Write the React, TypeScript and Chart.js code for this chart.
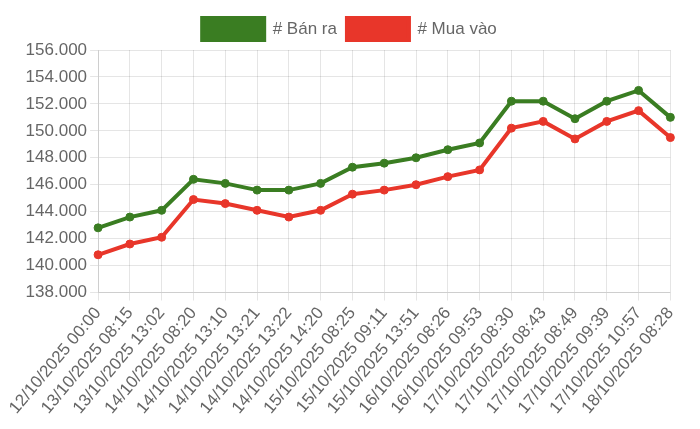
import React, { useEffect, useRef } from "react";
import { Chart, registerables } from "chart.js";

Chart.register(...registerables);

const labels = [
  "12/10/2025 00:00", "13/10/2025 08:15", "13/10/2025 13:02", "14/10/2025 08:20",
  "14/10/2025 13:10", "14/10/2025 13:21", "14/10/2025 13:22", "14/10/2025 14:20",
  "15/10/2025 08:25", "15/10/2025 09:11", "15/10/2025 13:51", "16/10/2025 08:26",
  "16/10/2025 09:53", "17/10/2025 08:30", "17/10/2025 08:43", "17/10/2025 08:49",
  "17/10/2025 09:39", "17/10/2025 10:57", "18/10/2025 08:28",
];
const banRa = [
  142800, 143600, 144100, 146400, 146100, 145600, 145600, 146100, 147300, 147600,
  148000, 148600, 149100, 152200, 152200, 150900, 152200, 153000, 151000,
];
const muaVao = [
  140800, 141600, 142100, 144900, 144600, 144100, 143600, 144100, 145300, 145600,
  146000, 146600, 147100, 150200, 150700, 149400, 150700, 151500, 149500,
];

const fmt = (v: number) => {
  const s = Math.round(v).toString();
  return s.replace(/\B(?=(\d{3})+(?!\d))/g, ".");
};

export default function App() {
  const ref = useRef<HTMLCanvasElement>(null);
  useEffect(() => {
    if (!ref.current) return;
    const font = { family: "'Liberation Sans', Arial, sans-serif", size: 17 };
    const chart = new Chart(ref.current, {
      type: "line",
      data: {
        labels,
        datasets: [
          {
            label: "# Bán ra",
            data: banRa,
            borderColor: "#3a7d22",
            backgroundColor: "#3a7d22",
            borderWidth: 4,
            pointRadius: 4,
            pointBorderWidth: 1,
            pointBackgroundColor: "#3a7d22",
            pointBorderColor: "#3a7d22",
            tension: 0,
            fill: false,
          },
          {
            label: "# Mua vào",
            data: muaVao,
            borderColor: "#e8362a",
            backgroundColor: "#e8362a",
            borderWidth: 4,
            pointRadius: 4,
            pointBorderWidth: 1,
            pointBackgroundColor: "#e8362a",
            pointBorderColor: "#e8362a",
            tension: 0,
            fill: false,
          },
        ],
      },
      options: {
        responsive: false,
        animation: false,
        plugins: {
          legend: {
            labels: { font, color: "#666", boxWidth: 62, boxHeight: 22, padding: 10 },
          },
          tooltip: { enabled: false },
        },
        scales: {
          x: {
            ticks: { font, color: "#666", minRotation: 50, maxRotation: 50 },
            grid: { color: "rgba(0,0,0,0.1)" },
          },
          y: {
            min: 138000,
            max: 156000,
            ticks: {
              font,
              color: "#666",
              stepSize: 2000,
              callback: (v: any) => fmt(Number(v)),
            },
            grid: { color: "rgba(0,0,0,0.1)" },
          },
        },
      },
    });
    return () => chart.destroy();
  }, []);
  return (
    <div style={{ paddingLeft: 2 }}>
      <canvas ref={ref} width={679} height={413} style={{ display: "block" }} />
    </div>
  );
}
